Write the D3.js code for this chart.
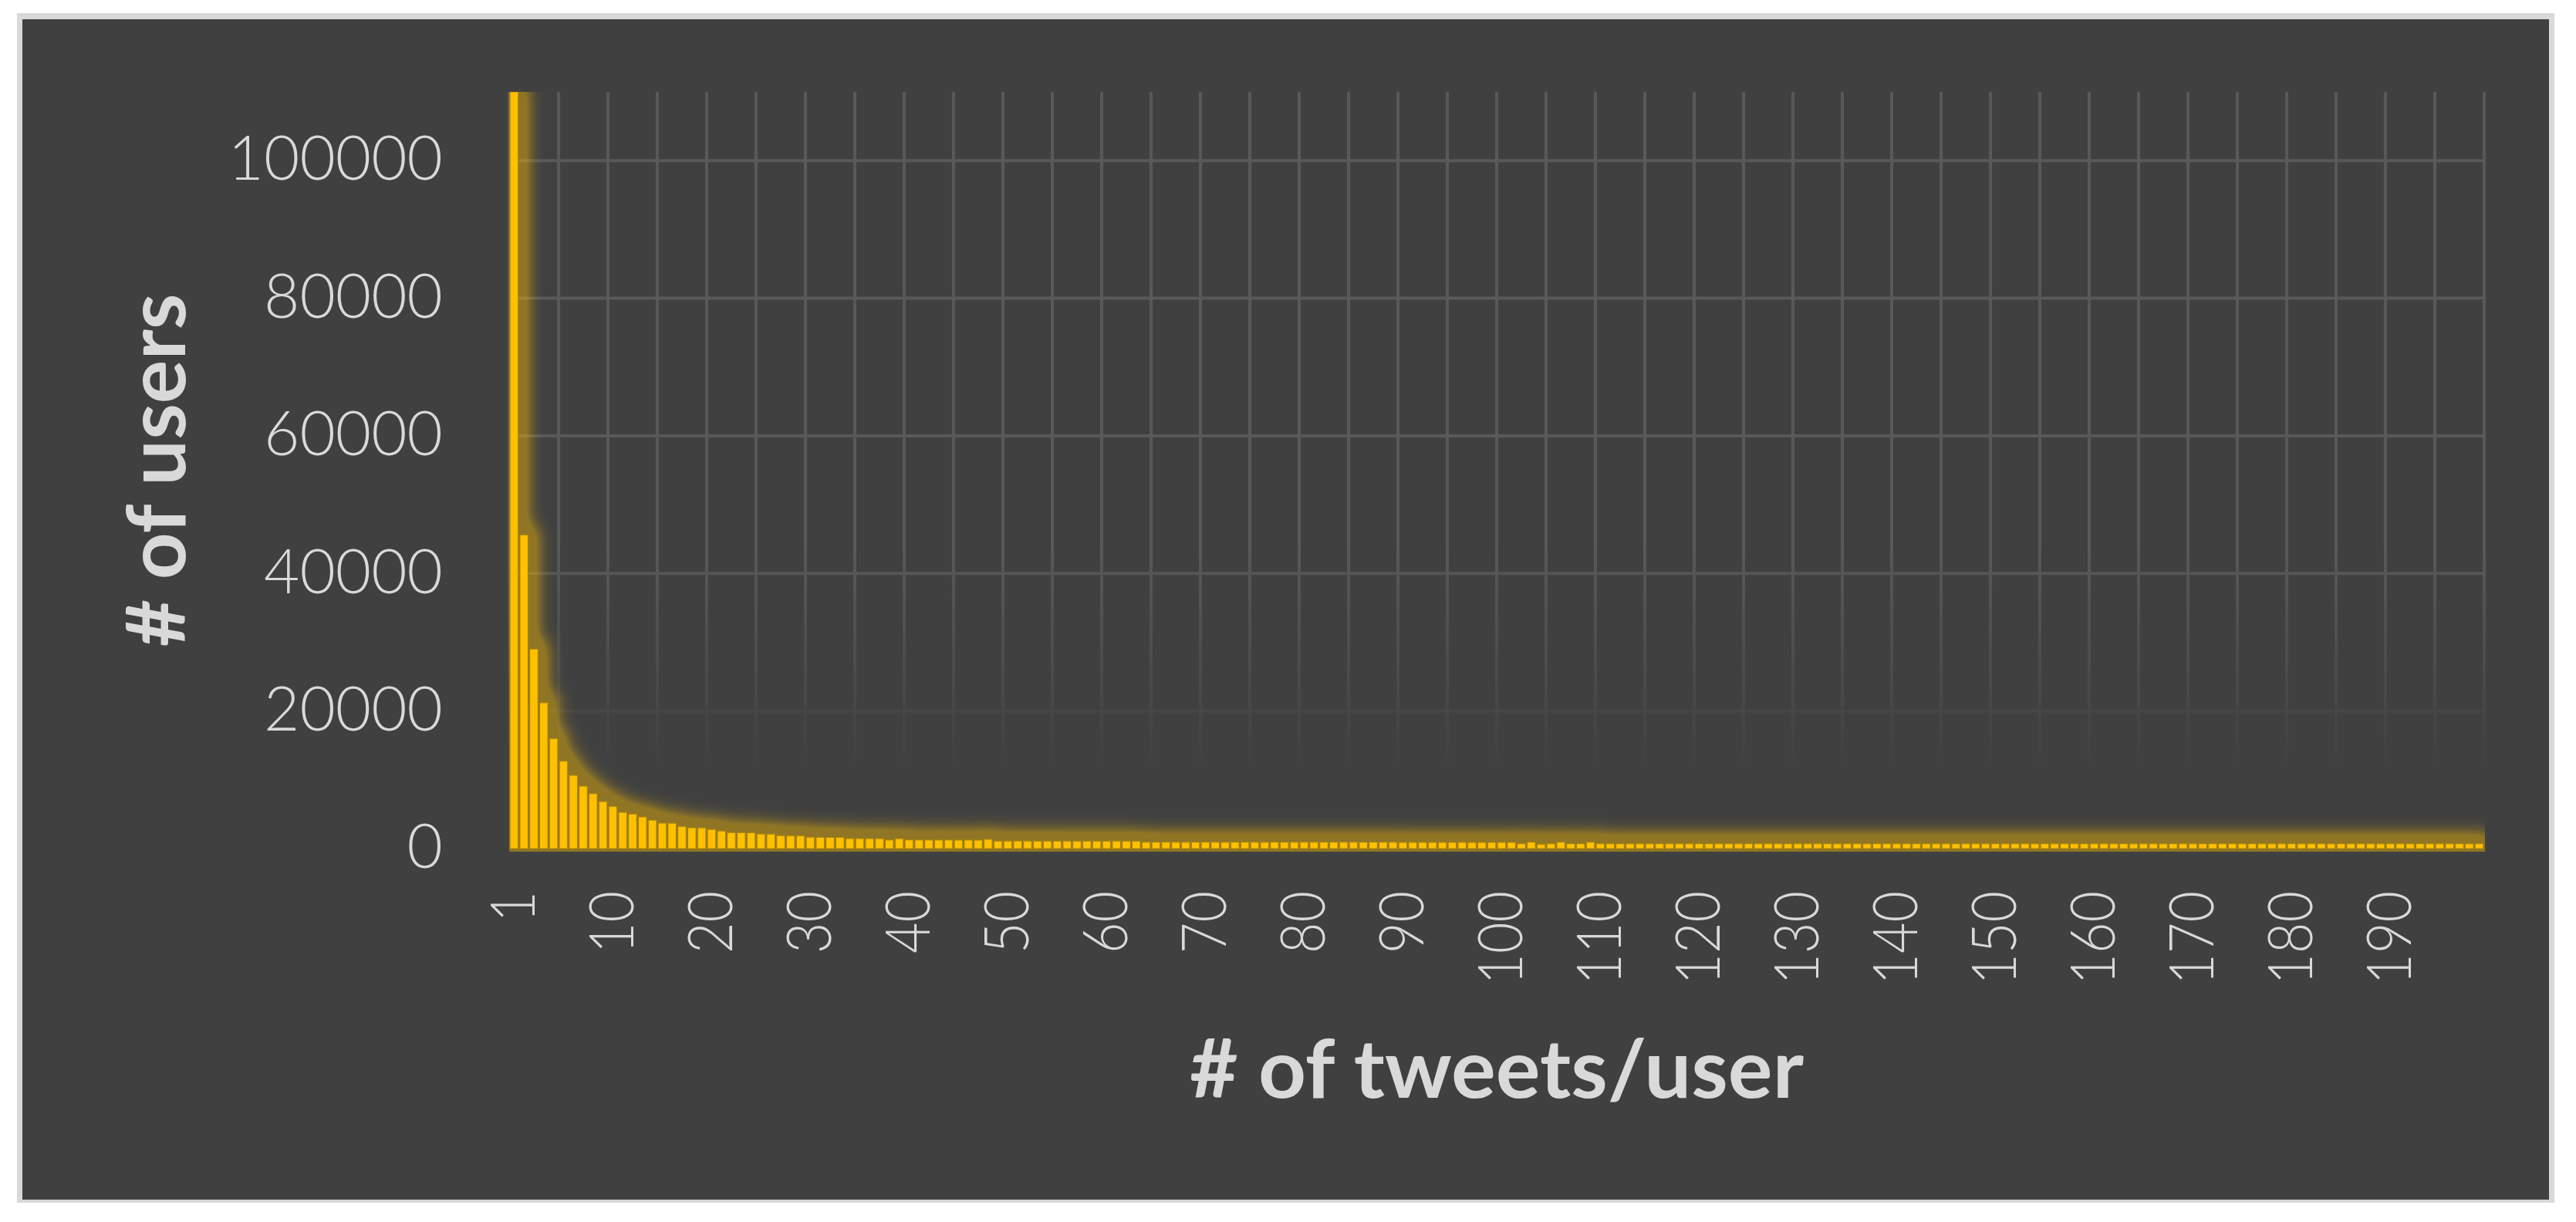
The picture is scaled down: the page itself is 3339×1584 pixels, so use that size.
<!DOCTYPE html>
<html>
<head>
<meta charset="utf-8">
<script src="https://cdn.jsdelivr.net/npm/d3@7"></script>
<style>
  html, body { margin: 0; padding: 0; background: #ffffff; }
  svg { display: block; }
</style>
</head>
<body>
<script>
// ---------------- DATA ----------------
// number of users for each "# of tweets/user" bin (bin index 0..199); first bar exceeds the axis max and is clipped
const userCounts = [
  110000, 45600, 29000, 21200, 16000, 12700, 10650, 9080, 7980, 6840,
  6130, 5270, 5030, 4600, 4130, 3700, 3690, 3220, 3030, 3020,
  2790, 2560, 2330, 2320, 2310, 2120, 2110, 1890, 1880, 1870,
  1650, 1650, 1640, 1640, 1460, 1460, 1450, 1450, 1250, 1440,
  1260, 1250, 1250, 1240, 1250, 1240, 1240, 1230, 1350, 1100,
  1100, 1110, 1100, 1100, 1090, 1100, 1100, 1090, 1100, 1090,
  1090, 1100, 1090, 1080, 930, 930, 930, 930, 920, 930,
  930, 930, 920, 930, 930, 930, 920, 930, 930, 930,
  930, 920, 930, 930, 930, 930, 920, 930, 930, 930,
  900, 900, 910, 900, 900, 900, 910, 900, 900, 900,
  900, 900, 710, 930, 640, 710, 930, 710, 710, 930,
  710, 710, 700, 710, 710, 700, 710, 710, 710, 700,
  710, 710, 700, 710, 710, 710, 700, 710, 710, 700,
  710, 700, 710, 710, 700, 710, 710, 700, 710, 710,
  700, 710, 710, 700, 710, 710, 700, 710, 710, 700,
  710, 700, 710, 710, 700, 710, 700, 710, 710, 700,
  710, 710, 700, 710, 700, 710, 710, 700, 710, 710,
  700, 710, 710, 700, 710, 700, 710, 710, 700, 710,
  710, 700, 710, 710, 700, 710, 710, 700, 710, 700,
  710, 710, 700, 710, 710, 700, 710, 710, 700, 710
];
const binIndex = d3.range(userCounts.length);

// x tick labels and the bins they sit under
const xTickBins   = [0, 10, 20, 30, 40, 50, 60, 70, 80, 90, 100, 110, 120, 130, 140, 150, 160, 170, 180, 190];
const xTickLabels = ["1", "10", "20", "30", "40", "50", "60", "70", "80", "90", "100", "110", "120", "130", "140", "150", "160", "170", "180", "190"];

// y ticks
const yTicks = [0, 20000, 40000, 60000, 80000, 100000];
const yMax = 110000;

const xTitle = "# of tweets/user";
const yTitle = "# of users";

// ---------------- LAYOUT ----------------
const W = 3339, H = 1584;
const plot = { left: 660, right: 3220, top: 119, bottom: 1100 };
const gridColor = "#595959";
const textColor = "#d9d9d9";
const barColor = "#ffc000";
const fontFam = "Lato, 'Open Sans', 'Noto Sans', sans-serif";

const svg = d3.select("body").append("svg")
  .attr("width", W).attr("height", H)
  .attr("viewBox", `0 0 ${W} ${H}`);

const defs = svg.append("defs");

// soft glow filter for the bars
const glow = defs.append("filter").attr("id", "glow")
  .attr("filterUnits", "userSpaceOnUse")
  .attr("x", 560).attr("y", 40).attr("width", 2760).attr("height", 1120);
glow.append("feMorphology").attr("in", "SourceAlpha").attr("operator", "dilate").attr("radius", 10).attr("result", "dil");
glow.append("feGaussianBlur").attr("in", "dil").attr("stdDeviation", 11).attr("result", "blur");
const ct = glow.append("feComponentTransfer").attr("in", "blur").attr("result", "boost");
ct.append("feFuncA").attr("type", "linear").attr("slope", 2.0).attr("intercept", 0);
glow.append("feFlood").attr("flood-color", barColor).attr("flood-opacity", 0.42).attr("result", "col");
glow.append("feComposite").attr("in", "col").attr("in2", "boost").attr("operator", "in").attr("result", "glowed");
const merge = glow.append("feMerge");
merge.append("feMergeNode").attr("in", "glowed");
merge.append("feMergeNode").attr("in", "SourceGraphic");

// clip for plot area
defs.append("clipPath").attr("id", "plotClip")
  .append("rect").attr("x", plot.left).attr("y", plot.top)
  .attr("width", plot.right - plot.left + 1).attr("height", plot.bottom - plot.top + 4);

// fading mask for gridlines
const grad = defs.append("linearGradient").attr("id", "fadeGrad")
  .attr("gradientUnits", "userSpaceOnUse")
  .attr("x1", 0).attr("y1", plot.top).attr("x2", 0).attr("y2", plot.bottom);
grad.append("stop").attr("offset", 0).attr("stop-color", "#fff");
grad.append("stop").attr("offset", 0.6).attr("stop-color", "#fff");
grad.append("stop").attr("offset", 0.9).attr("stop-color", "#000");
grad.append("stop").attr("offset", 1).attr("stop-color", "#000");
defs.append("mask").attr("id", "gridMask")
  .attr("maskUnits", "userSpaceOnUse").attr("x", 0).attr("y", 0).attr("width", W).attr("height", H)
  .append("rect").attr("x", 0).attr("y", 0).attr("width", W).attr("height", H).attr("fill", "url(#fadeGrad)");

// frame
svg.append("rect").attr("x", 22).attr("y", 17).attr("width", 3311 - 22).attr("height", 1559 - 17).attr("fill", "#d9d9d9");
svg.append("rect").attr("x", 29).attr("y", 25).attr("width", 3304 - 29).attr("height", 1555 - 25).attr("fill", "#404040");

// scales
const x = d3.scaleBand().domain(binIndex).range([plot.left, plot.right])
  .paddingInner(0.18).paddingOuter(0.09);
const y = d3.scaleLinear().domain([0, yMax]).range([plot.bottom, plot.top]).clamp(true);

// gridlines
const grid = svg.append("g").attr("mask", "url(#gridMask)");
grid.selectAll("line.h").data(yTicks.filter(d => d > 0)).join("line")
  .attr("class", "h")
  .attr("x1", plot.left).attr("x2", plot.right)
  .attr("y1", d => y(d)).attr("y2", d => y(d))
  .attr("stroke", gridColor).attr("stroke-width", 4);
const nV = Math.round(binIndex.length / 5);
grid.selectAll("line.v").data(d3.range(nV + 1)).join("line")
  .attr("class", "v")
  .attr("x1", k => x.range()[0] + k * 5 * x.step())
  .attr("x2", k => x.range()[0] + k * 5 * x.step())
  .attr("y1", plot.top).attr("y2", plot.bottom)
  .attr("stroke", gridColor).attr("stroke-width", 4);

// bars with glow
const barsClip = svg.append("g").attr("clip-path", "url(#plotClip)");
const bars = barsClip.append("g").attr("filter", "url(#glow)");
bars.selectAll("rect").data(binIndex).join("rect")
  .attr("x", i => x(i))
  .attr("width", x.bandwidth())
  .attr("y", i => y(userCounts[i]))
  .attr("height", i => y(0) - y(userCounts[i]))
  .attr("fill", barColor)
  .attr("stroke", "#a8830c")
  .attr("stroke-width", 1);

// y axis labels
const yAxis = svg.append("g").attr("transform", "translate(574,0)")
  .call(d3.axisLeft(y).tickValues(yTicks).tickSize(0).tickPadding(0).tickFormat(d3.format("d")));
yAxis.select(".domain").remove();
yAxis.selectAll("text")
  .attr("x", 0).attr("dy", "0.31em")
  .attr("font-family", fontFam).attr("font-weight", 300)
  .attr("font-size", 80).attr("fill", textColor)
  .attr("text-anchor", "end");

// x axis labels (rotated)
const xAxis = svg.append("g").attr("transform", "translate(0,1155)")
  .call(d3.axisBottom(x).tickValues(xTickBins).tickSize(0).tickPadding(0)
    .tickFormat((d, i) => xTickLabels[i]));
xAxis.select(".domain").remove();
xAxis.selectAll("text")
  .attr("transform", "rotate(-90)")
  .attr("x", 0).attr("y", 27).attr("dy", 0)
  .attr("text-anchor", "end")
  .attr("font-family", fontFam).attr("font-weight", 300)
  .attr("font-size", 80).attr("fill", textColor)
  .attr("textLength", (d, i) => xTickLabels[i].length * 40.5)
  .attr("lengthAdjust", "spacingAndGlyphs");

// axis titles
svg.append("text")
  .attr("x", (plot.left + plot.right) / 2).attr("y", 1423)
  .attr("text-anchor", "middle")
  .attr("font-family", fontFam).attr("font-weight", 700)
  .attr("font-size", 106).attr("fill", textColor)
  .attr("textLength", 796).attr("lengthAdjust", "spacingAndGlyphs")
  .text(xTitle);

svg.append("text")
  .attr("transform", `translate(240,${(plot.top + plot.bottom) / 2}) rotate(-90)`)
  .attr("text-anchor", "middle")
  .attr("font-family", fontFam).attr("font-weight", 700)
  .attr("font-size", 106).attr("fill", textColor)
  .attr("textLength", 458).attr("lengthAdjust", "spacingAndGlyphs")
  .text(yTitle);
</script>
</body>
</html>
